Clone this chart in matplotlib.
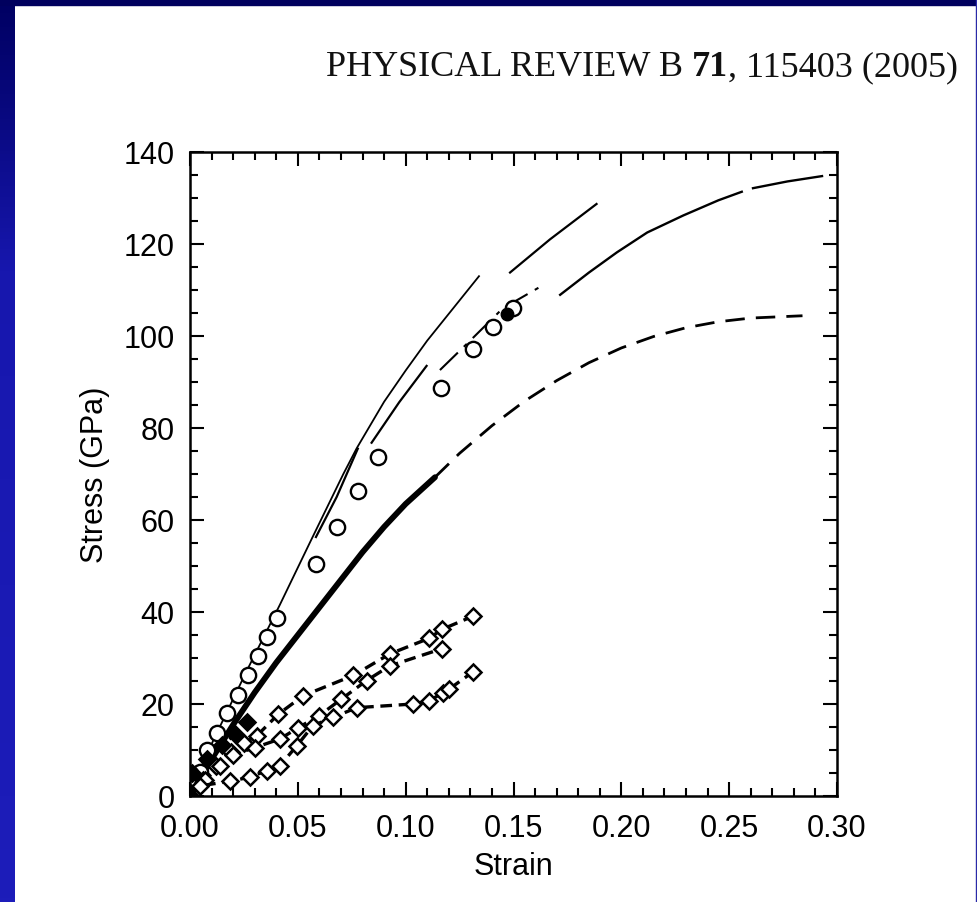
import numpy as np
import matplotlib
matplotlib.use("Agg")
import matplotlib.pyplot as plt

# thin solid curve
strain_a = [0.0, 0.0107, 0.0264, 0.0417, 0.0555, 0.0711, 0.0773, 0.09, 0.10, 0.11, 0.122, 0.134]
stress_a = [0.0, 12.0, 27.3, 41.6, 55.0, 70.0, 75.6, 85.7, 92.5, 99.0, 106.0, 113.0]

# long dashed curve, drawn piece by piece
strain_b1 = [0.0584, 0.068, 0.0778]
stress_b1 = [56.3, 65.0, 75.5]
strain_b2 = [0.0842, 0.097, 0.1097]
stress_b2 = [76.8, 85.6, 93.5]
strain_b3 = [0.1484, 0.1669, 0.1885]
stress_b3 = [113.8, 121.0, 128.7]

# long curve reaching the right edge
strain_c = [0.1712, 0.185, 0.198, 0.212, 0.2287, 0.245, 0.2596, 0.277, 0.2936]
stress_c = [108.8, 113.8, 118.2, 122.5, 126.2, 129.5, 132.0, 133.6, 134.8]

# dash-dot piece through the circles
strain_d = [0.1159, 0.131, 0.145, 0.1646]
stress_d = [92.6, 99.5, 106.0, 111.3]

# thick curve and its dashed continuation
strain_e = [0.0, 0.01, 0.02, 0.03, 0.04, 0.05, 0.06, 0.07, 0.08, 0.09, 0.10, 0.1136]
stress_e = [0.0, 8.0, 15.5, 22.5, 29.0, 35.0, 41.0, 47.0, 53.0, 58.5, 63.5, 69.3]
strain_f = [0.1136, 0.125, 0.14, 0.155, 0.17, 0.185, 0.20, 0.215, 0.23, 0.245, 0.26, 0.284]
stress_f = [69.3, 74.5, 80.5, 85.8, 90.3, 94.2, 97.4, 99.9, 101.8, 103.1, 103.9, 104.4]

# open circles, plus one filled
strain_o = [0.0046, 0.008, 0.0124, 0.017, 0.0224, 0.027, 0.0314, 0.0359, 0.0402,
            0.0584, 0.068, 0.078, 0.087, 0.1164, 0.131, 0.1406, 0.150]
stress_o = [5.3, 9.9, 13.8, 18.0, 22.0, 26.2, 30.4, 34.5, 38.6,
            50.4, 58.5, 66.2, 73.6, 88.7, 97.2, 102.0, 106.0]
strain_fill = [0.147]
stress_fill = [104.8]

# diamond series
strain_d1 = [0.0, 0.006, 0.012, 0.019, 0.025, 0.031, 0.041, 0.0525, 0.0757, 0.0927, 0.111, 0.1167, 0.1313]
stress_d1 = [0.0, 3.5, 6.5, 9.5, 11.5, 13.1, 17.8, 21.8, 26.2, 30.9, 34.3, 36.2, 39.1]
strain_d2 = [0.0, 0.007, 0.014, 0.0201, 0.030, 0.0417, 0.050, 0.060, 0.070, 0.0819, 0.0927, 0.1167]
stress_d2 = [0.0, 3.5, 6.5, 9.0, 10.5, 12.4, 14.8, 17.5, 21.0, 25.1, 28.3, 32.0]
strain_d3 = [0.0, 0.0046, 0.0185, 0.0278, 0.0355, 0.0417, 0.0495, 0.057, 0.0664, 0.0773,
             0.1035, 0.111, 0.1174, 0.12, 0.131]
stress_d3 = [0.0, 2.2, 3.2, 4.1, 5.5, 6.6, 10.9, 15.3, 17.1, 19.2, 20.0, 20.7, 22.5, 23.2, 26.9]
strain_d4 = [0.0, 0.001, 0.008, 0.015, 0.021, 0.0263]
stress_d4 = [0.0, 5.0, 8.0, 11.0, 13.5, 16.0]

fig = plt.figure(figsize=(9.77, 9.03), dpi=100)
fig.patch.set_facecolor("white")

# slide border: gradient strip on the left, dark strip on top
band = fig.add_axes([0, 0, 15 / 977, 1])
grad = np.linspace(0, 1, 256).reshape(-1, 1)
cmap = matplotlib.colors.LinearSegmentedColormap.from_list(
    "slide", [(0, "#000062"), (0.12, "#08087e"), (0.3, "#1717ae"), (1, "#1d1dba")])
band.imshow(grad, aspect="auto", cmap=cmap, extent=[0, 1, 0, 1])
band.axis("off")
fig.patches.append(plt.Rectangle((0, 1 - 6 / 903), 1, 6 / 903, transform=fig.transFigure,
                                 color="#00005e", zorder=5))
fig.patches.append(plt.Rectangle((976 / 977, 0), 1 / 977, 1, transform=fig.transFigure,
                                 color="#2a2aa8", zorder=5))

ax = fig.add_axes([190 / 977, 1 - 797 / 903, 647 / 977, 644 / 903])

k = "black"
ax.plot(strain_a, stress_a, color=k, lw=1.3)
for sx, sy in [(strain_b1, stress_b1), (strain_b2, stress_b2), (strain_b3, stress_b3)]:
    ax.plot(sx, sy, color=k, lw=1.6)
ax.plot(strain_c, stress_c, color=k, lw=1.7, dashes=(90, 4))
ax.plot(strain_d, stress_d, color=k, lw=1.5, dashes=(12, 4, 2, 4))
ax.plot(strain_e, stress_e, color=k, lw=4.2, solid_capstyle="round")
ax.plot(strain_f, stress_f, color=k, lw=2.0, dashes=(7, 4))
ax.plot(strain_o, stress_o, ls="none", marker="o", ms=11, mfc="white", mec=k, mew=1.7)
ax.plot(strain_fill, stress_fill, ls="none", marker="o", ms=9, mfc=k, mec=k)

for sx, sy, fc in [(strain_d1, stress_d1, "white"), (strain_d2, stress_d2, "white"),
                   (strain_d3, stress_d3, "white"), (strain_d4, stress_d4, "black")]:
    ax.plot(sx, sy, color=k, lw=2.4, dashes=(3.5, 2), marker="D", ms=8,
            mfc=fc, mec=k, mew=1.8)

ax.set_xlim(0, 0.30)
ax.set_ylim(0, 140)
ax.set_xticks(np.arange(0, 0.301, 0.05))
ax.set_xticks(np.arange(0, 0.301, 0.01), minor=True)
ax.set_yticks(np.arange(0, 141, 20))
ax.set_yticks(np.arange(0, 141, 5), minor=True)
ax.set_xticklabels(["0.00", "0.05", "0.10", "0.15", "0.20", "0.25", "0.30"])
ax.tick_params(which="both", direction="in", top=True, right=True, width=1.5,
               labelsize=22)
ax.tick_params(axis="x", which="major", pad=12)
ax.tick_params(axis="y", which="major", pad=11)
ax.tick_params(which="major", length=10)
ax.tick_params(which="minor", length=6)
for lab in ax.get_xticklabels() + ax.get_yticklabels():
    lab.set_family("Liberation Sans")
for s in ax.spines.values():
    s.set_linewidth(1.8)

ax.set_xlabel("Strain", fontsize=22, family="Liberation Sans", labelpad=6)
ax.set_ylabel("Stress (GPa)", fontsize=22, family="Liberation Sans", labelpad=10)

# journal header with bold volume number
renderer = fig.canvas.get_renderer()
parts = [("PHYSICAL REVIEW B ", "normal"), ("71", "bold"), (", 115403 (2005)", "normal")]
x = 958 / 977
for txt, wt in reversed(parts):
    t = fig.text(x, 1 - 76 / 903, txt, ha="right", va="baseline", fontsize=26,
                 family="Liberation Serif", fontweight=wt, color="#111111")
    bb = t.get_window_extent(renderer)
    x -= bb.width / fig.bbox.width

fig.savefig("out.png", dpi=100)
